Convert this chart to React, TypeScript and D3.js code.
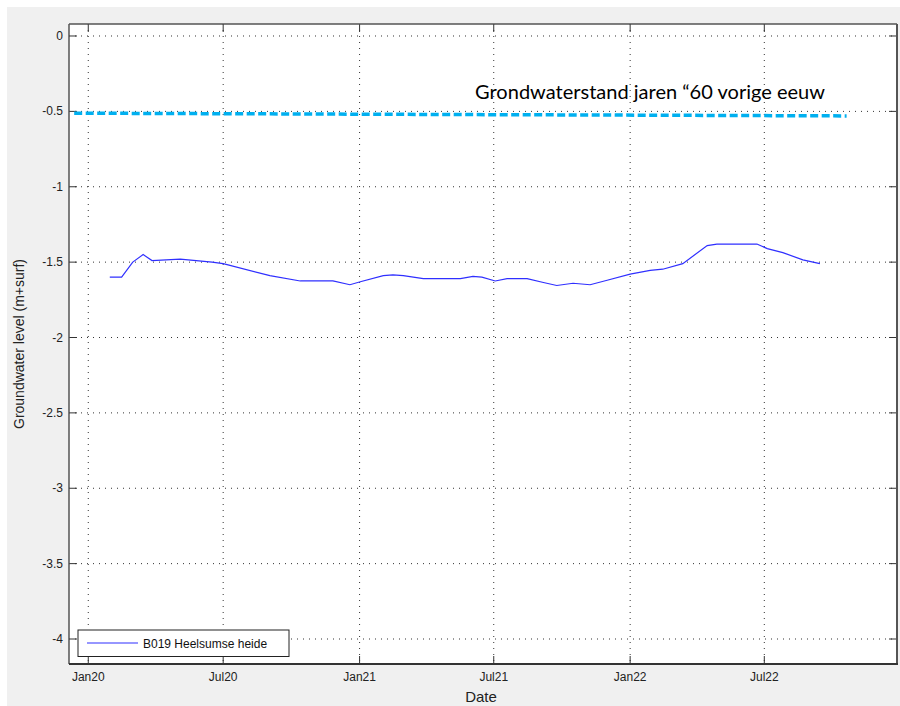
import React from "react";
import * as d3 from "d3";

const seriesName = "B019 Heelsumse heide";
const dates = ["2020-01-30","2020-02-15","2020-03-01","2020-03-15","2020-03-27","2020-05-04","2020-06-16","2020-07-01","2020-09-02","2020-10-13","2020-11-26","2020-12-19","2021-01-02","2021-02-02","2021-02-15","2021-03-01","2021-03-28","2021-05-17","2021-06-03","2021-06-15","2021-07-03","2021-07-19","2021-08-15","2021-09-06","2021-09-24","2021-10-16","2021-11-08","2021-12-01","2022-01-01","2022-01-28","2022-02-14","2022-03-13","2022-04-15","2022-04-28","2022-06-21","2022-07-05","2022-07-26","2022-08-22","2022-09-14"];
const levels = [-1.60,-1.60,-1.50,-1.45,-1.49,-1.48,-1.50,-1.51,-1.59,-1.625,-1.625,-1.65,-1.63,-1.59,-1.585,-1.59,-1.61,-1.61,-1.595,-1.60,-1.625,-1.61,-1.61,-1.635,-1.655,-1.64,-1.65,-1.62,-1.58,-1.555,-1.547,-1.51,-1.39,-1.38,-1.38,-1.41,-1.437,-1.485,-1.51];

const refDates = ["2019-12-13","2022-10-20"];
const refLevels = [-0.512,-0.53];
const refLabel = "Grondwaterstand jaren \u201C60 vorige eeuw";

const xTickDates = ["2020-01-01","2020-07-01","2021-01-01","2021-07-01","2022-01-01","2022-07-01"];
const xTickLabels = ["Jan20","Jul20","Jan21","Jul21","Jan22","Jul22"];
const yTicks = [0,-0.5,-1,-1.5,-2,-2.5,-3,-3.5,-4];
const yTickLabels = ["0","-0.5","-1","-1.5","-2","-2.5","-3","-3.5","-4"];
const xLabel = "Date";
const yLabel = "Groundwater level (m+surf)";

const W = 900, H = 706;
const L = 69, T = 24, R = 897, B = 664;
const font = "'Liberation Sans', Arial, sans-serif";

export default function App() {
  const p = (s: string) => new Date(s + "T00:00:00Z");
  const x = d3.scaleUtc().domain([p("2019-12-06"), p("2022-12-27")]).range([L, R]);
  const y = d3.scaleLinear().domain([-4.1658, 0.0796]).range([B, T]);

  const data = dates.map((d, i) => ({ d: p(d), v: levels[i] }));
  const ref = refDates.map((d, i) => ({ d: p(d), v: refLevels[i] }));
  const line = d3.line<{ d: Date; v: number }>().x(e => x(e.d)).y(e => y(e.v));

  const gridStyle = { stroke: "#333", strokeWidth: 1, strokeDasharray: "1,5" };
  const tk = 8;

  return (
    <div style={{ position: "absolute", left: 0, top: 0 }}>
      <svg width={W} height={H} style={{ display: "block" }}>
        <rect x={0} y={0} width={W} height={H} fill="#fff" />
        <rect x={7} y={7} width={W - 7} height={H - 7} fill="#f0f0f0" />
        <rect x={L} y={T} width={R - L} height={B - T} fill="#fff" />
        {xTickDates.map((d, i) => (
          <line key={"gx" + i} x1={x(p(d))} x2={x(p(d))} y1={T} y2={B} {...gridStyle} />
        ))}
        {yTicks.map((v, i) => (
          <line key={"gy" + i} x1={L} x2={R} y1={y(v)} y2={y(v)} {...gridStyle} />
        ))}
        {xTickDates.map((d, i) => (
          <g key={"tx" + i}>
            <line x1={x(p(d))} x2={x(p(d))} y1={B} y2={B - tk} stroke="#333" />
            <line x1={x(p(d))} x2={x(p(d))} y1={T} y2={T + tk} stroke="#333" />
            <text x={x(p(d))} y={681} textAnchor="middle" fontFamily={font} fontSize={12} fill="#222">{xTickLabels[i]}</text>
          </g>
        ))}
        {yTicks.map((v, i) => (
          <g key={"ty" + i}>
            <line x1={L} x2={L + tk} y1={y(v)} y2={y(v)} stroke="#333" />
            <line x1={R} x2={R - tk} y1={y(v)} y2={y(v)} stroke="#333" />
            <text x={63} y={y(v) + 4} textAnchor="end" fontFamily={font} fontSize={12} fill="#222">{yTickLabels[i]}</text>
          </g>
        ))}
        <path d={line(ref) || ""} fill="none" stroke="#00b0f0" strokeWidth={3.5} strokeDasharray="8,3.5" />
        <text x={475} y={99} fontFamily="Lato, 'Open Sans', sans-serif" fontSize={20} fontWeight={400} textLength={350} lengthAdjust="spacingAndGlyphs" fill="#000">{refLabel}</text>
        <path d={line(data) || ""} fill="none" stroke="#2f2fff" strokeWidth={1.2} />
        <line x1={L} x2={R} y1={T} y2={T} stroke="#555" strokeWidth={1.5} />
        <line x1={L} x2={L} y1={T} y2={B} stroke="#555" strokeWidth={1.5} />
        <line x1={R} x2={R} y1={T} y2={B + 1} stroke="#555" strokeWidth={2} />
        <line x1={L} x2={R + 1} y1={B} y2={B} stroke="#333" strokeWidth={2} />
        <rect x={78} y={630} width={211} height={26.5} fill="#fff" stroke="#222" strokeWidth={1} />
        <line x1={87} x2={138} y1={643} y2={643} stroke="#2f2fff" strokeWidth={1.2} />
        <text x={143} y={648} fontFamily={font} fontSize={12} fill="#111">{seriesName}</text>
        <text x={481} y={702} textAnchor="middle" fontFamily={font} fontSize={15} fill="#222">{xLabel}</text>
        <text transform={`translate(24,${(T + B) / 2}) rotate(-90)`} textAnchor="middle" fontFamily={font} fontSize={14} fill="#222">{yLabel}</text>
      </svg>
    </div>
  );
}
